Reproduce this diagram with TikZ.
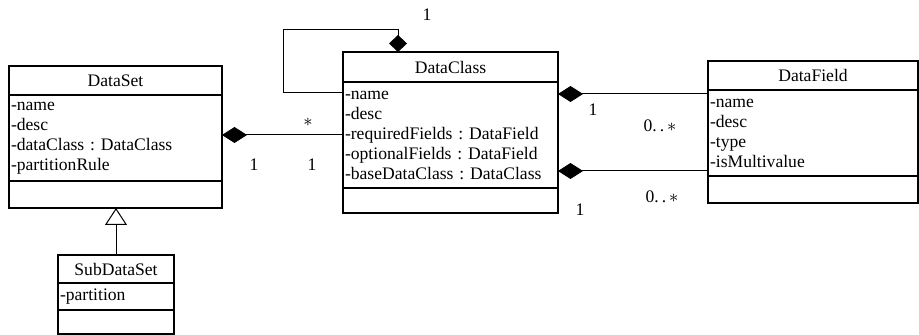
\documentclass[tikz,border=0pt]{standalone}
\usepackage{fontspec}
\setmainfont{Liberation Serif}
\frenchspacing
\usetikzlibrary{arrows.meta}
\tikzset{
  cls/.style={draw, line width=0.8pt, anchor=north west, inner sep=0pt, outer sep=0pt,
    font=\fontsize{8.8}{10}\selectfont},
  ctitle/.style={cls, minimum height=#1},
  cattr/.style={cls, align=left, inner xsep=1pt, minimum height=#1},
  cmeth/.style={cls, minimum height=#1},
  comp/.style={draw, line width=0.5pt, {Diamond[length=12.5pt,width=8pt]}-},
  mult/.style={font=\fontsize{8.8}{10}\selectfont, inner sep=0pt}
}
\begin{document}
\begin{tikzpicture}[x=0.5pt, y=-0.5pt]
		\useasboundingbox (0,0) rectangle (919,335);
		% DataSet
		\node[ctitle=14.5pt, minimum width=106.5pt] (dst) at (9,66) {DataSet};
		\node[cattr=43pt, text width=104.5pt] (dsa) at (dst.south west)
			{-name\\-desc\\-dataClass : DataClass\\-partitionRule};
		\node[cmeth=13.5pt, minimum width=106.5pt] (dsm) at (dsa.south west) {};
		% SubDataSet
		\node[ctitle=14pt, minimum width=58pt] (sst) at (58,255) {SubDataSet};
		\node[cattr=13.5pt, text width=56pt] (ssa) at (sst.south west) {-partition};
		\node[cmeth=12pt, minimum width=58pt] (ssm) at (ssa.south west) {};
		% DataClass
		\node[ctitle=15pt, minimum width=107.5pt] (dct) at (343,52) {DataClass};
		\node[cattr=53pt, text width=105.5pt] (dca) at (dct.south west)
			{-name\\-desc\\-requiredFields : DataField\\-optionalFields : DataField\\-baseDataClass : DataClass};
		\node[cmeth=12.5pt, minimum width=107.5pt] (dcm) at (dca.south west) {};
		% DataField
		\node[ctitle=14.5pt, minimum width=105pt] (dft) at (708,61) {DataField};
		\node[cattr=43pt, text width=103pt] (dfa) at (dft.south west)
			{-name\\-desc\\-type\\-isMultivalue};
		\node[cmeth=13.5pt, minimum width=105pt] (dfm) at (dfa.south west) {};

		% inheritance
		\draw[line width=0.5pt, -{Triangle[open,length=8.5pt,width=11pt]}]
			(sst.north) -- (sst.north |- dsm.south);

		% compositions
		\coordinate (l1) at (dca.west);
		\draw[comp] (l1 -| dsa.east) -- (l1);
		\draw[line width=0.5pt, -{Diamond[length=8.5pt,width=9pt]}]
			(dca.north west) ++(0,11) -| (283,30) -| ([xshift=-26.25pt]dct.north);
		\coordinate (r1) at ([yshift=-6pt]dca.north east);
		\draw[comp] (r1) -- (r1 -| dfa.west);
		\coordinate (r2) at ([yshift=8.5pt]dca.south east);
		\draw[comp] (r2) -- (r2 -| dfa.west);

		% multiplicities
		\node[mult] (m1) at (308,122) {$*$};
		\node[mult] (m2) at (254,165) {1};
		\node[mult] (m3) at (312,165) {1};
		\node[mult] (m4) at (427,15) {1};
		\node[mult] (m5) at (593,110) {1};
		\node[mult] (m6) at (660,126) {0.\,.\,$*$};
		\node[mult] (m7) at (662,197) {0.\,.\,$*$};
		\node[mult] (m8) at (580,210) {1};
	\end{tikzpicture}
\end{document}
